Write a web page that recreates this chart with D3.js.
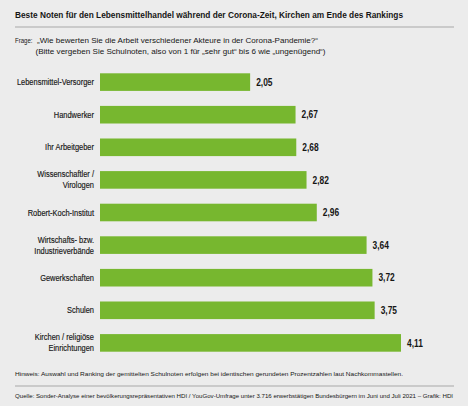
<!DOCTYPE html>
<html>
<head>
<meta charset="utf-8">
<script src="https://d3js.org/d3.v7.min.js"></script>
<style>
body{ margin:0; background:#ececec; }
svg{ display:block; font-family:"Liberation Sans",Arial,sans-serif; }
</style>
</head>
<body></body>
<script>
const width = 468;
const height = 406;

// data
const categories = [
  ['Lebensmittel-Versorger'],
  ['Handwerker'],
  ['Ihr Arbeitgeber'],
  ['Wissenschaftler /', 'Virologen'],
  ['Robert-Koch-Institut'],
  ['Wirtschafts- bzw.', 'Industrieverbände'],
  ['Gewerkschaften'],
  ['Schulen'],
  ['Kirchen / religiöse', 'Einrichtungen']
];
const values = [2.05, 2.67, 2.68, 2.82, 2.96, 3.64, 3.72, 3.75, 4.11];

const title = 'Beste Noten für den Lebensmittelhandel während der Corona-Zeit, Kirchen am Ende des Rankings';
const question = ['Frage:', '„Wie bewerten Sie die Arbeit verschiedener Akteure in der Corona-Pandemie?“',
  '(Bitte vergeben Sie Schulnoten, also von 1 für „sehr gut“ bis 6 wie „ungenügend“)'];
const note = 'Hinweis: Auswahl und Ranking der gemittelten Schulnoten erfolgen bei identischen gerundeten Prozentzahlen laut Nachkommastellen.';
const source = 'Quelle: Sonder-Analyse einer bevölkerungsrepräsentativen HDI / YouGov-Umfrage unter 3.716 erwerbstätigen Bundesbürgern im Juni und Juli 2021 – Grafik: HDI';

const ink = '#161615';

// squeeze text horizontally to imitate the condensed face
const squeeze = (sel, k) => sel.each(function() {
  const len = this.getComputedTextLength();
  d3.select(this).attr('textLength', len * k).attr('lengthAdjust', 'spacingAndGlyphs');
});
const fit = (sel, w) => sel.attr('textLength', w).attr('lengthAdjust', 'spacingAndGlyphs');

const svg = d3.select('body').append('svg')
    .attr('width', width)
    .attr('height', height);

svg.append('rect').attr('width', width).attr('height', height).attr('fill', '#ececec');

svg.append('text')
    .attr('x', 15).attr('y', 17.5)
    .attr('font-size', 9).attr('font-weight', 'bold').attr('fill', ink)
    .text(title)
    .call(fit, 388);

svg.append('line')
    .attr('x1', 15).attr('x2', 454).attr('y1', 27).attr('y2', 27)
    .attr('stroke', '#a8a8a8').attr('stroke-width', 1.2);

svg.append('text').attr('x', 15).attr('y', 42.5).attr('font-size', 8).attr('fill', ink)
    .text(question[0]).call(fit, 17.5);
svg.append('text').attr('x', 37).attr('y', 42.5).attr('font-size', 8).attr('fill', ink)
    .text(question[1]).call(fit, 281);
svg.append('text').attr('x', 35.5).attr('y', 54).attr('font-size', 8).attr('fill', ink)
    .text(question[2]).call(fit, 290);

// scales
const x = d3.scaleLinear().domain([0, 4.11]).range([100, 401]);

const y = d3.scaleBand()
    .domain(d3.range(values.length))
    .range([65.8, 359.2])
    .paddingInner(0.46)
    .paddingOuter(0.23);

const rows = svg.selectAll('g.row')
    .data(values)
    .enter()
  .append('g')
    .attr('class', 'row');

rows.append('rect')
    .attr('x', x(0))
    .attr('y', (d, i) => y(i))
    .attr('width', d => x(d) - x(0))
    .attr('height', y.bandwidth())
    .attr('fill', '#77b72f');

rows.append('text')
    .attr('x', d => x(d) + 6)
    .attr('y', (d, i) => y(i) + y.bandwidth() / 2)
    .attr('dy', '0.36em')
    .attr('font-size', 10)
    .attr('font-weight', 'bold')
    .attr('fill', ink)
    .text(d => d.toFixed(2).replace('.', ','))
    .call(squeeze, 0.84);

rows.each(function(d, i) {
  const lines = categories[i];
  const mid = y(i) + y.bandwidth() / 2;
  d3.select(this).selectAll('text.cat')
    .data(lines)
    .enter()
  .append('text')
    .attr('class', 'cat')
    .attr('text-anchor', 'end')
    .attr('font-size', 8.4)
    .attr('fill', ink)
    .attr('stroke', ink)
    .attr('stroke-width', 0.15)
    .attr('x', 94)
    .attr('y', (l, j) => mid + (j - (lines.length - 1) / 2) * 11)
    .attr('dy', '0.36em')
    .text(l => l)
    .call(squeeze, 0.89);
});

svg.append('text').attr('x', 15).attr('y', 376).attr('font-size', 6.2).attr('fill', ink)
    .text(note).call(fit, 388);

svg.append('line')
    .attr('x1', 15).attr('x2', 454).attr('y1', 386).attr('y2', 386)
    .attr('stroke', '#a8a8a8').attr('stroke-width', 1);

svg.append('text').attr('x', 15).attr('y', 398).attr('font-size', 6.2).attr('fill', ink)
    .text(source).call(fit, 438);
</script>
</html>
